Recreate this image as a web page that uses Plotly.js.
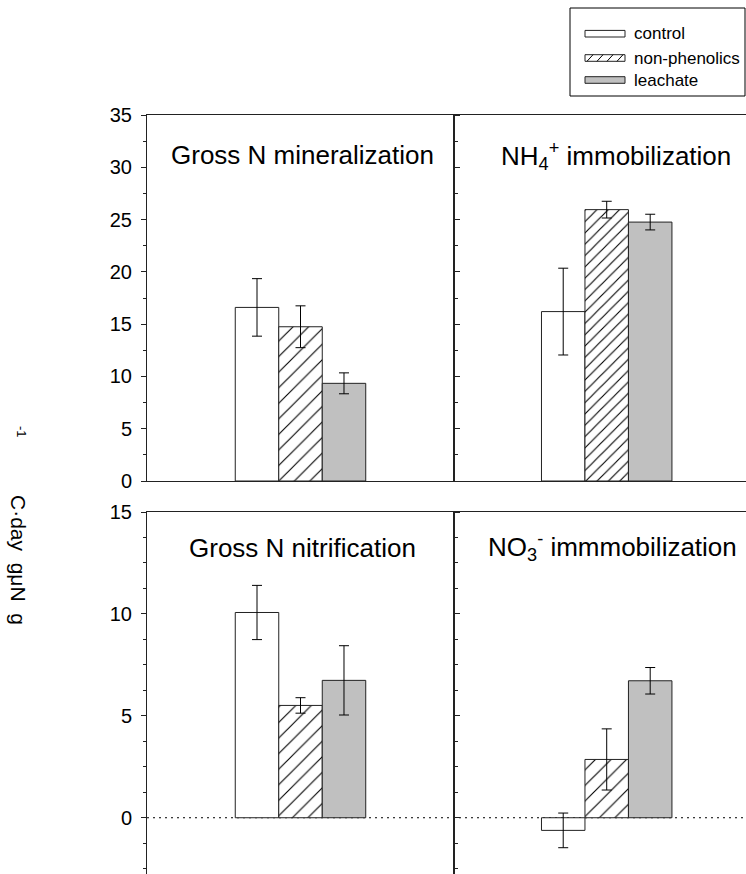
<!DOCTYPE html>
<html>
<head>
<meta charset="utf-8">
<script src="https://cdn.plot.ly/plotly-3.0.1.min.js"></script>
<style>html,body{margin:0;padding:0;background:#fff;overflow:hidden}#chart{width:746px;height:874px}</style>
</head>
<body>
<div id="chart"></div>
<script>
// ---- data ----
const panelTitles = ["Gross N mineralization", "NH<sub>4</sub><sup>+</sup> immobilization", "Gross N nitrification", "NO<sub>3</sub><sup>-</sup> immmobilization"];
const seriesNames = ["control", "non-phenolics", "leachate"];
const controlVals = [16.6, 16.2, 10.07, -0.62];
const controlErr  = [2.75, 4.15, 1.33, 0.85];
const nonphenVals = [14.75, 25.95, 5.51, 2.86];
const nonphenErr  = [2.0, 0.8, 0.38, 1.5];
const leachVals   = [9.34, 24.76, 6.74, 6.72];
const leachErr    = [1.0, 0.75, 1.7, 0.65];
const topTicks = [0, 5, 10, 15, 20, 25, 30, 35];
const botTicks = [0, 5, 10, 15];
const yTitleText = "C·day  gμN  g";
const yTitleSup = "-1";

// ---- geometry helpers ----
const W = 746, H = 874;
const px = v => v / W;
const py = v => 1 - v / H;
const FONT = "Liberation Sans, Arial, sans-serif";
const LC = "#222";

const vals = [controlVals, nonphenVals, leachVals];
const errs = [controlErr, nonphenErr, leachErr];
const fills = ["#ffffff", "#ffffff", "#c0c0c0"];
const xa = ["x", "x2", "x3", "x4"];
const ya = ["y", "y2", "y3", "y4"];

const traces = [];
for (let p = 0; p < 4; p++) {
  for (let s = 0; s < 3; s++) {
    const marker = {color: fills[s], line: {color: LC, width: 1}};
    if (s === 1) marker.pattern = {shape: "/", fgcolor: "#000", bgcolor: "#fff", size: p === 1 ? 8 : 11, solidity: p === 1 ? 0.14 : 0.1};
    traces.push({
      type: "bar", x: [0], y: [vals[s][p]], name: seriesNames[s],
      xaxis: xa[p], yaxis: ya[p], showlegend: false, hoverinfo: "skip",
      marker: marker,
      error_y: {type: "data", array: [errs[s][p]], visible: true, color: "#000", thickness: 1, width: 5}
    });
  }
}

const xL = [px(147), px(454)], xR = [px(454), 1];
const yTop = [py(481), py(115)], yBot = [0, py(512)];
const xRangeL = [-0.5, 0.5], xRangeR = [-0.4974, 0.4537];
const topRange = [0, 35], botRange = [-2.76, 15];

const baseX = {showline: true, linecolor: LC, linewidth: 1, showticklabels: false, ticks: "", showgrid: false, zeroline: false, fixedrange: true};
const baseYLabeled = {showline: true, linecolor: LC, linewidth: 1, mirror: "ticks", ticks: "outside", ticklen: 5, tickcolor: LC, tickwidth: 1,
  tickmode: "array", showgrid: false, zeroline: false, fixedrange: true,
  tickfont: {family: FONT, size: 20, color: "#000"}, ticklabelstandoff: 5};
const baseYPlain = {showline: true, linecolor: LC, linewidth: 1, showticklabels: false, ticks: "", showgrid: false, zeroline: false, fixedrange: true};

const annotations = [];
const titlePos = [[169, 155], [499, 156], [187, 548], [486, 547]];
for (let p = 0; p < 4; p++) {
  annotations.push({xref: "paper", yref: "paper", x: px(titlePos[p][0]), y: py(titlePos[p][1]), xanchor: "left", yanchor: "middle",
    text: panelTitles[p], showarrow: false, font: {family: FONT, size: 26, color: "#000"}});
}
annotations.push({xref: "paper", yref: "paper", x: px(19), y: py(560), xanchor: "center", yanchor: "middle", textangle: 90,
  text: yTitleText, showarrow: false, font: {family: FONT, size: 21, color: "#000"}});
annotations.push({xref: "paper", yref: "paper", x: px(21), y: py(432), xanchor: "center", yanchor: "middle", textangle: 90,
  text: yTitleSup, showarrow: false, font: {family: FONT, size: 13, color: "#000"}});

// legend (drawn manually to match the wide swatches)
const shapes = [];
shapes.push({type: "line", xref: "paper", yref: "y3", x0: px(147), x1: 1, y0: 0, y1: 0, layer: "below",
  line: {color: "#000", width: 1, dash: "2px,4px"}});
shapes.push({type: "rect", xref: "paper", yref: "paper", x0: px(570), x1: px(745), y0: py(96), y1: py(8),
  line: {color: "#000", width: 1}, fillcolor: "rgba(0,0,0,0)"});
const rowY = [33.7, 58, 80];
for (let s = 0; s < 3; s++) {
  shapes.push({type: "rect", xref: "paper", yref: "paper", x0: px(585), x1: px(625), y0: py(rowY[s] + 3.3), y1: py(rowY[s] - 3.3),
    line: {color: LC, width: 1}, fillcolor: fills[s]});
  if (s === 1) {
    for (let k = 0; k < 4; k++) {
      shapes.push({type: "line", xref: "paper", yref: "paper", x0: px(587 + 10 * k), x1: px(593 + 10 * k),
        y0: py(rowY[s] + 3.3), y1: py(rowY[s] - 3.3), line: {color: "#000", width: 1}});
    }
  }
  annotations.push({xref: "paper", yref: "paper", x: px(632), y: py(rowY[s]), xanchor: "left", yanchor: "middle",
    text: seriesNames[s], showarrow: false, font: {family: FONT, size: 17, color: "#000"}});
}

const layout = {
  width: W, height: H, margin: {l: 0, r: 0, t: 0, b: 0},
  paper_bgcolor: "#fff", plot_bgcolor: "rgba(0,0,0,0)",
  barmode: "group", bargap: 0.575, bargroupgap: 0, showlegend: false,
  font: {family: FONT, color: "#000"},
  xaxis: Object.assign({}, baseX, {domain: xL, range: xRangeL, anchor: "y", mirror: true}),
  yaxis: Object.assign({}, baseYLabeled, {domain: yTop, range: topRange, anchor: "x", tickvals: topTicks,
    minor: {tickmode: "array", tickvals: [2.5, 7.5, 12.5, 17.5, 22.5, 27.5, 32.5], ticks: "outside", ticklen: 3, tickcolor: LC}}),
  xaxis2: Object.assign({}, baseX, {domain: xR, range: xRangeR, anchor: "y2", mirror: true}),
  yaxis2: Object.assign({}, baseYPlain, {domain: yTop, range: topRange, anchor: "x2"}),
  xaxis3: Object.assign({}, baseX, {domain: xL, range: xRangeL, anchor: "y3", side: "top"}),
  yaxis3: Object.assign({}, baseYLabeled, {domain: yBot, range: botRange, anchor: "x3", tickvals: botTicks,
    minor: {tickmode: "array", tickvals: [-2.5, -1.25, 1.25, 2.5, 3.75, 6.25, 7.5, 8.75, 11.25, 12.5, 13.75], ticks: "outside", ticklen: 3, tickcolor: LC}}),
  xaxis4: Object.assign({}, baseX, {domain: xR, range: xRangeR, anchor: "y4", side: "top"}),
  yaxis4: Object.assign({}, baseYPlain, {domain: yBot, range: botRange, anchor: "x4"}),
  shapes: shapes, annotations: annotations
};

Plotly.newPlot("chart", traces, layout, {displayModeBar: false, staticPlot: true});
</script>
</body>
</html>
